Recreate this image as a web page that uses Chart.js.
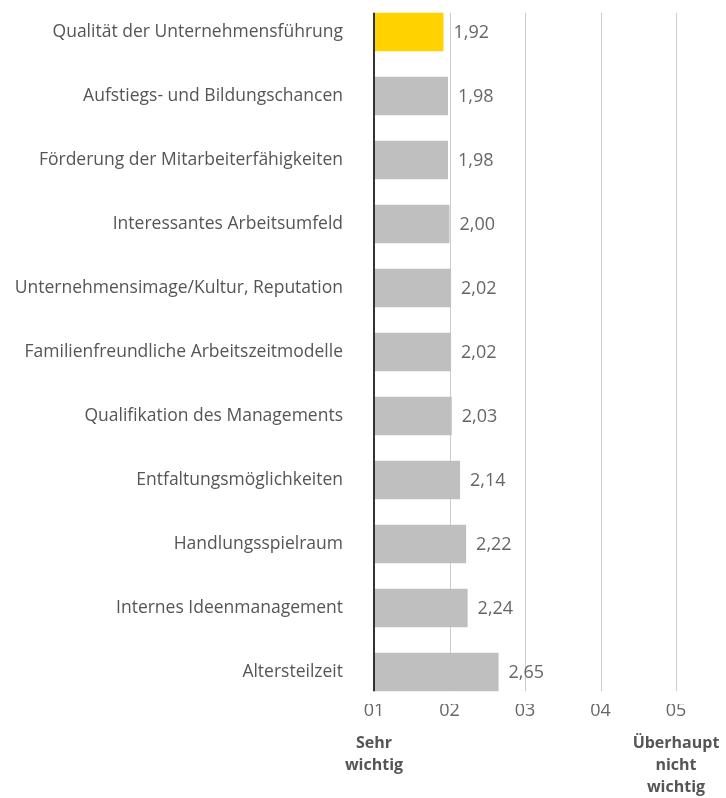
<!DOCTYPE html>
<html>
<head>
<meta charset="utf-8">
<script src="https://cdn.jsdelivr.net/npm/chart.js@4"></script>
<style>
  body { margin: 0; background: #fff; }
  #wrap { width: 726px; height: 798px; }
</style>
</head>
<body>
<div id="wrap"><canvas id="chart" width="726" height="798"></canvas></div>
<script>
// Daten
const categories = [
    'Qualität der Unternehmensführung',
    'Aufstiegs- und Bildungschancen',
    'Förderung der Mitarbeiterfähigkeiten',
    'Interessantes Arbeitsumfeld',
    'Unternehmensimage/Kultur, Reputation',
    'Familienfreundliche Arbeitszeitmodelle',
    'Qualifikation des Managements',
    'Entfaltungsmöglichkeiten',
    'Handlungsspielraum',
    'Internes Ideenmanagement',
    'Altersteilzeit'
];
const values = [1.92, 1.98, 1.98, 2.00, 2.02, 2.02, 2.03, 2.14, 2.22, 2.24, 2.65];
const tickLabels = ['01', '02', '03', '04', '05'];
const scaleEnds = [['Sehr', 'wichtig'], ['Überhaupt', 'nicht', 'wichtig']];

const FONT = '"Open Sans", sans-serif';
const barColors = values.map((v, i) => i === 0 ? '#ffd200' : '#bfbfbf');

// Gitterlinien + Achse, Werte, Skalenbeschriftung
const extras = {
    id: 'extras',
    beforeDatasetsDraw(chart) {
        const x = chart.scales.x;
        const bars = chart.getDatasetMeta(0).data;
        const top = bars[0].y - bars[0].height / 2;
        const bottom = bars[bars.length - 1].y + bars[bars.length - 1].height / 2;
        const c = chart.ctx;
        c.save();
        c.strokeStyle = '#cccccc';
        c.lineWidth = 1;
        for (let v = 2; v <= 5; v++) {
            const px = Math.round(x.getPixelForValue(v)) + 0.5;
            c.beginPath(); c.moveTo(px, top); c.lineTo(px, bottom); c.stroke();
        }
        c.restore();
    },
    afterDatasetsDraw(chart) {
        const x = chart.scales.x;
        const bars = chart.getDatasetMeta(0).data;
        const top = bars[0].y - bars[0].height / 2;
        const bottom = bars[bars.length - 1].y + bars[bars.length - 1].height / 2;
        const c = chart.ctx;
        c.save();
        // Achse bei 1
        const ax = Math.round(x.getPixelForValue(1));
        c.strokeStyle = '#333333';
        c.lineWidth = 2;
        c.beginPath(); c.moveTo(ax, top); c.lineTo(ax, bottom); c.stroke();

        // Werte
        c.fillStyle = '#666666';
        c.font = '18px ' + FONT;
        c.textBaseline = 'middle';
        c.textAlign = 'left';
        bars.forEach((b, i) => {
            c.fillText(values[i].toFixed(2).replace('.', ','), b.x + 10, b.y + 1);
        });

        // Skalenenden
        c.font = 'bold 16px ' + FONT;
        c.fillStyle = '#555555';
        c.textAlign = 'center';
        [1, 5].forEach((v, k) => {
            const px = x.getPixelForValue(v);
            scaleEnds[k].forEach((line, j) => {
                c.fillText(line, px, 743 + j * 22);
            });
        });
        c.restore();
    }
};

const ctx = document.getElementById('chart').getContext('2d');
new Chart(ctx, {
    type: 'bar',
    data: {
        labels: categories,
        datasets: [{
            data: values.map(v => [1, v]),
            backgroundColor: barColors,
            borderWidth: 0,
            barPercentage: 0.6,
            categoryPercentage: 1.0
        }]
    },
    options: {
        indexAxis: 'y',
        responsive: false,
        animation: false,
        layout: { padding: { top: 0, right: 50, left: 0, bottom: 0 } },
        plugins: {
            legend: { display: false },
            tooltip: { enabled: false }
        },
        scales: {
            x: {
                type: 'linear',
                min: 1,
                max: 5,
                grid: { display: false, drawTicks: false },
                border: { display: false },
                afterFit: s => { s.height = 94; },
                ticks: {
                    stepSize: 1,
                    padding: -4,
                    color: '#666666',
                    font: { family: FONT, size: 18 },
                    callback: (v) => tickLabels[v - 1]
                }
            },
            y: {
                grid: { display: false, drawTicks: false },
                border: { display: false },
                afterFit: s => {
                    s.width = 374;
                    s.paddingTop = 0;
                    s.paddingBottom = 0;
                },
                ticks: {
                    padding: 31,
                    color: '#555555',
                    font: { family: FONT, size: 17.5 }
                }
            }
        }
    },
    plugins: [extras]
});
</script>
</body>
</html>
